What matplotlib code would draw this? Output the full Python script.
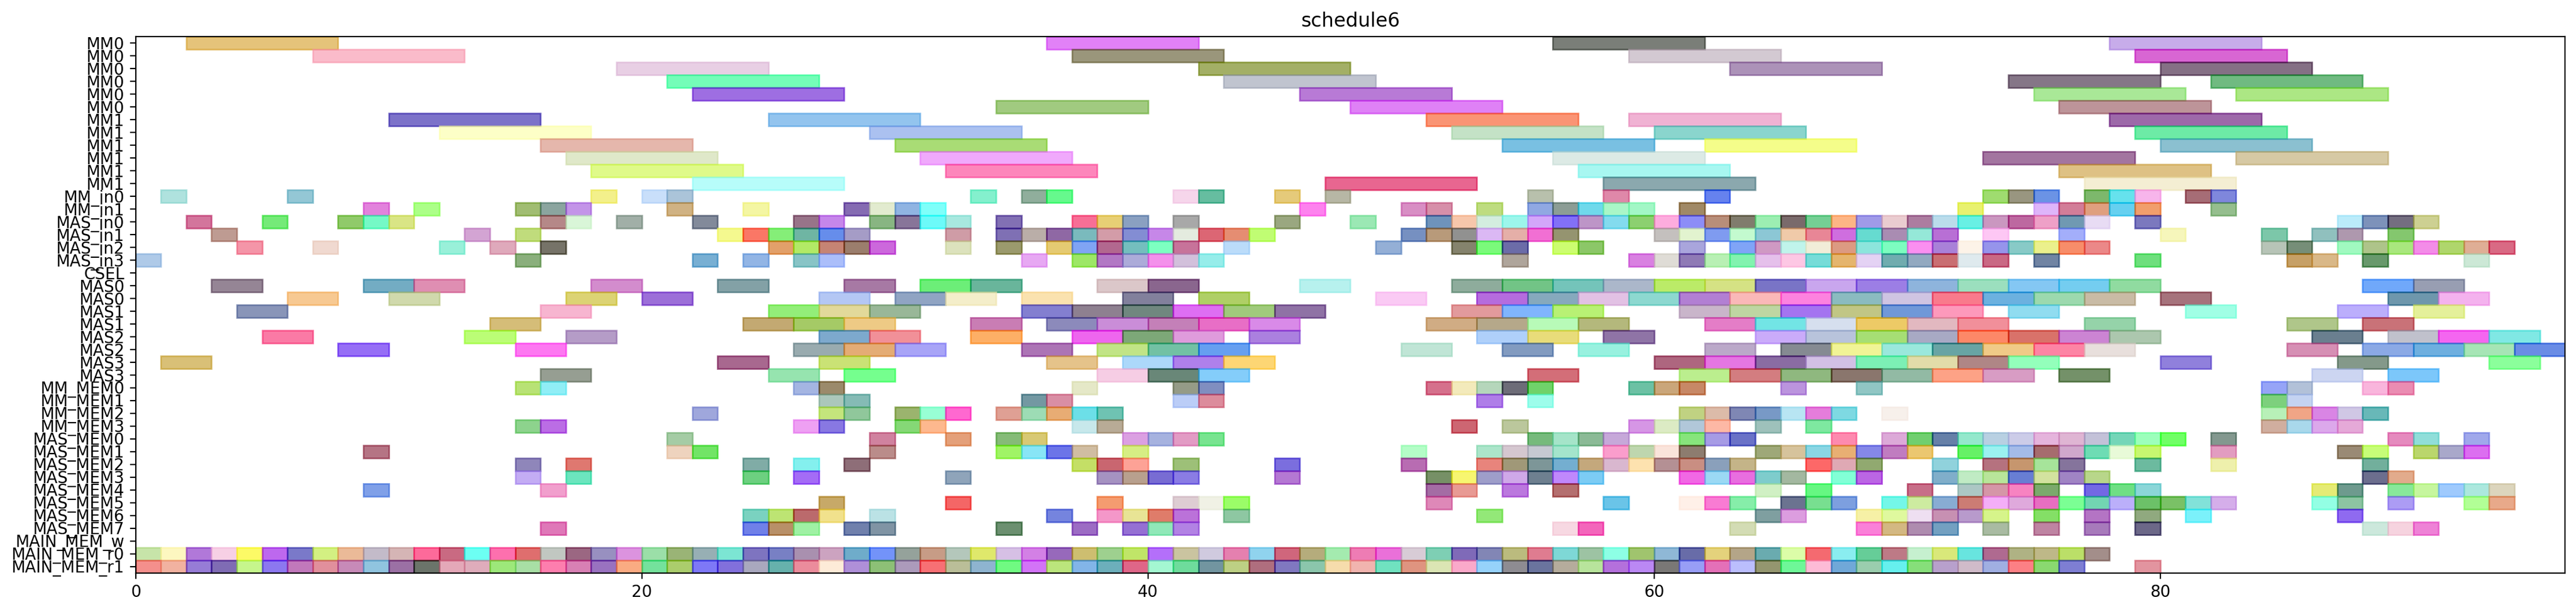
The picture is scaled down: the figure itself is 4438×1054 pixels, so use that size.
import matplotlib
matplotlib.use("Agg")
import matplotlib.pyplot as plt
from matplotlib.colors import to_rgb
import numpy as np

labels = ["MM0"] * 6 + ["MM1"] * 6 + ["MM_in0", "MM_in1", "MAS_in0", "MAS_in1", "MAS_in2", "MAS_in3", "CSEL",
          "MAS0", "MAS0", "MAS1", "MAS1", "MAS2", "MAS2", "MAS3", "MAS3",
          "MM_MEM0", "MM_MEM1", "MM_MEM2", "MM_MEM3",
          "MAS_MEM0", "MAS_MEM1", "MAS_MEM2", "MAS_MEM3", "MAS_MEM4", "MAS_MEM5", "MAS_MEM6", "MAS_MEM7",
          "MAIN_MEM_w", "MAIN_MEM_r0", "MAIN_MEM_r1"]

# how long a task stays on each resource
durations = [6] * 12 + [1] * 7 + [2] * 8 + [1] * 15

# start times, one list per row
s00 = [2, 36, 56, 78]
s01 = [7, 37, 59, 79]
s02 = [19, 42, 63, 80]
s03 = [21, 43, 74, 82]
s04 = [22, 46, 75, 83]
s05 = [34, 48, 76]
s06 = [10, 25, 51, 59, 78]
s07 = [12, 29, 52, 60, 79]
s08 = [16, 30, 54, 62, 80]
s09 = [17, 31, 56, 73, 83]
s10 = [18, 32, 57, 76]
s11 = [22, 47, 58, 77]
s12 = [1, 6, 18, 20, 21, 33, 35, 36, 41, 42, 45, 47, 55, 58, 62, 73, 74, 75, 77, 78, 79, 81, 82]
s13 = [9, 11, 15, 16, 17, 21, 24, 28, 29, 30, 31, 46, 50, 51, 53, 55, 56, 57, 58, 59, 61, 72, 75, 76, 77, 78, 79, 82]
s14 = [2, 5, 8, 9, 10, 16, 17, 19, 22, 26, 27, 29, 30, 31, 32, 34, 37, 38, 39, 41, 45, 48, 51, 52, 53, 54, 55, 56,
       57, 58, 59, 60, 61, 62, 63, 64, 65, 66, 67, 68, 69, 70, 71, 72, 73, 74, 75, 76, 77, 79, 87, 88, 89, 90]
s15 = [3, 13, 15, 23, 24, 25, 26, 27, 28, 32, 34, 35, 36, 37, 38, 39, 40, 41, 42, 43, 44, 50, 51, 52, 53, 54, 55, 56,
       60, 61, 62, 63, 64, 65, 66, 67, 68, 69, 70, 71, 73, 76, 80, 84, 86, 87, 89]
s16 = [4, 7, 12, 14, 16, 25, 26, 27, 28, 29, 32, 34, 36, 37, 38, 39, 40, 41, 43, 49, 52, 53, 54, 56, 57, 61, 63, 64,
       65, 66, 67, 68, 69, 70, 71, 72, 73, 74, 75, 76, 77, 84, 85, 87, 88, 89, 90, 91, 92, 93]
s17 = [0, 15, 22, 24, 26, 27, 35, 37, 38, 39, 40, 41, 42, 54, 59, 60, 61, 62, 63, 64, 65, 66, 67, 68, 69, 70,
       71, 72, 73, 75, 79, 85, 86, 88, 92]
s18 = []
s19 = [3, 9, 11, 18, 23, 28, 31, 33, 38, 40, 46, 52, 54, 56, 58, 60, 62, 64, 66, 68, 70, 72, 74, 76, 78, 88, 90]
s20 = [6, 10, 17, 20, 27, 30, 32, 35, 39, 42, 49, 53, 55, 57, 59, 61, 63, 65, 67, 69, 71, 73, 75, 77, 80, 89, 91]
s21 = [4, 16, 25, 27, 29, 35, 37, 39, 41, 43, 45, 52, 54, 56, 61, 63, 65, 67, 69, 71, 74, 81, 87, 90]
s22 = [14, 24, 26, 28, 33, 36, 38, 40, 42, 44, 51, 53, 55, 57, 62, 64, 66, 68, 70, 72, 77, 85, 88]
s23 = [5, 13, 17, 27, 29, 33, 37, 39, 41, 44, 53, 55, 58, 64, 66, 68, 70, 72, 74, 76, 78, 86, 89, 91, 93]
s24 = [8, 15, 26, 28, 30, 35, 38, 40, 42, 50, 54, 57, 62, 65, 67, 69, 71, 73, 75, 77, 85, 88, 90, 92, 94]
s25 = [1, 23, 27, 36, 39, 41, 43, 60, 62, 64, 66, 68, 70, 72, 74, 80, 87, 93]
s26 = [16, 25, 28, 38, 40, 42, 55, 61, 63, 65, 67, 69, 71, 73, 76, 86, 89]
s27 = [15, 16, 26, 27, 37, 41, 42, 51, 52, 53, 54, 55, 59, 60, 61, 65, 68, 84, 85, 88, 89]
s28 = [27, 28, 35, 36, 41, 42, 53, 55, 84, 85]
s29 = [22, 27, 28, 30, 31, 32, 34, 35, 36, 37, 38, 61, 62, 63, 64, 65, 66, 67, 69, 84, 85, 86, 87, 88]
s30 = [15, 16, 26, 27, 30, 31, 37, 38, 52, 54, 59, 60, 61, 62, 64, 66, 84, 85, 86, 87]
s31 = [21, 29, 32, 34, 35, 39, 40, 41, 42, 55, 56, 57, 58, 61, 62, 63, 67, 69, 70, 71, 72, 73, 74, 75, 76, 77, 78,
       79, 80, 82, 89, 90, 92]
s32 = [9, 21, 22, 29, 34, 35, 36, 37, 39, 50, 53, 54, 55, 56, 58, 59, 60, 61, 64, 65, 66, 67, 68, 69, 70, 72, 73,
       74, 75, 76, 77, 78, 79, 82, 87, 88, 90, 91, 92]
s33 = [15, 17, 24, 26, 28, 37, 38, 39, 41, 45, 50, 53, 54, 55, 56, 57, 58, 59, 60, 61, 62, 63, 66, 67, 68, 71, 73,
       74, 75, 76, 79, 82, 88]
s34 = [15, 17, 24, 26, 32, 38, 39, 40, 41, 45, 51, 52, 53, 54, 55, 56, 57, 61, 62, 63, 64, 65, 67, 68, 71, 72, 73,
       74, 75, 76, 77, 88, 89]
s35 = [9, 16, 51, 52, 54, 56, 64, 66, 70, 72, 73, 74, 75, 77, 78, 79, 86, 87, 89, 90, 91, 92, 93]
s36 = [27, 32, 38, 41, 42, 43, 51, 58, 61, 62, 63, 65, 66, 67, 69, 70, 71, 72, 73, 74, 75, 76, 77, 78, 79, 80, 81,
       82, 86, 87, 89, 92, 93]
s37 = [24, 25, 26, 27, 29, 36, 38, 39, 40, 41, 43, 53, 64, 65, 68, 69, 70, 71, 72, 73, 75, 77, 79, 81, 87]
s38 = [16, 24, 25, 26, 28, 29, 34, 37, 39, 40, 41, 56, 57, 63, 68, 69, 70, 71, 73, 75, 77, 79, 88, 89, 90]
s39 = []
s40 = [0, 1, 2, 3, 4, 5, 6, 7, 8, 9, 10, 11, 12, 13, 14, 15, 16, 17, 18, 19, 20, 21, 22, 23, 24, 25, 26, 27, 28, 29,
       30, 31, 32, 33, 34, 35, 36, 37, 38, 39, 40, 41, 42, 43, 44, 45, 46, 47, 48, 49, 50, 51, 52, 53, 54, 55, 56,
       57, 58, 59, 60, 61, 62, 63, 64, 65, 66, 67, 68, 69, 70, 71, 72, 73, 74, 75, 76, 77]
s41 = [0, 1, 2, 3, 4, 5, 6, 7, 8, 9, 10, 11, 12, 13, 14, 15, 16, 17, 18, 19, 20, 21, 22, 23, 24, 25, 26, 27, 28, 29,
       30, 31, 32, 33, 34, 35, 36, 37, 38, 39, 40, 41, 42, 43, 44, 45, 46, 47, 48, 49, 50, 51, 52, 53, 54, 55, 56,
       57, 58, 59, 60, 61, 62, 63, 64, 65, 66, 67, 68, 69, 70, 71, 72, 73, 74, 75, 76, 79]

# colour of each task as it looks on the white background, same order as the starts
c00 = ["#e5c37a", "#e281f8", "#7a7e78", "#c8adea"]
c01 = ["#fbbccb", "#9a967b", "#d4c9d2", "#d864d4"]
c02 = ["#e8cfe4", "#a3b064", "#ac92b9", "#857085"]
c03 = ["#74fdb9", "#c0c4cf", "#857687", "#70ba81"]
c04 = ["#9e6ee3", "#b87ad6", "#aae997", "#ace784"]
c05 = ["#a1cb80", "#e081f6", "#bd9499"]
c06 = ["#7c72c9", "#93c5ee", "#fb9474", "#f0b3d3", "#9d69aa"]
c07 = ["#fdffc8", "#abc2f0", "#c4e3c6", "#8ad5ce", "#6deba6"]
c08 = ["#e6b7ad", "#aadd75", "#79c0e3", "#f5fe8a", "#8bc0d1"]
c09 = ["#e0e9c9", "#f0aafc", "#dceae6", "#a375a0", "#d6c9a4"]
c10 = ["#dffb8a", "#fd86bc", "#a8f7f2", "#dec184"]
c11 = ["#b7fdfa", "#e96690", "#8ba8ae", "#f4efd3"]
c12 = ["#b0e3de", "#94c8d5", "#f3f08b", "#c9dffa", "#abc5d9", "#84f0cd", "#90ae9c", "#60f98d", "#f6d6ec", "#66bda0",
       "#e6cb7a", "#b7b7a5", "#b9c0ad", "#e088aa", "#6682ef", "#9fdc6f", "#999680", "#6b93e6", "#7db86c", "#66e3ed",
       "#f8b5ec", "#a66d76", "#7f87dd"]
c13 = ["#e282dc", "#adff88", "#a1bd72", "#8ba59f", "#c394e8", "#d0b283", "#f5f6a3", "#856bb3", "#e3ebcf", "#90b4e3",
       "#7ffffb", "#fd82ee", "#d88ec4", "#d78faa", "#bedc80", "#90a8e2", "#8c9d95", "#6fd9ec", "#a9f6c8", "#a2f7c6",
       "#a08963", "#e8f170", "#deb5fa", "#d27d98", "#df9f7f", "#64d1f0", "#f19e6c", "#95be8e"]
c14 = ["#d4759c", "#75ea78", "#90ca6a", "#75f9c6", "#d9e685", "#b58888", "#daf6d8", "#a1b0a7", "#828a9a", "#987489",
       "#c686ea", "#88b682", "#887599", "#6cfbf9", "#a8e8df", "#8270b4", "#f86f96", "#e7cf75", "#8aa0c1", "#a8a8a8",
       "#9aa780", "#9be8b4", "#6e93bc", "#f8c8ab", "#d4ede0", "#9cf6ec", "#d3a6fb", "#8270f8", "#bd95c8", "#83dbef",
       "#8cd170", "#fdadde", "#8c8df8", "#b98e7a", "#807c6d", "#9ceeb2", "#7a6a6b", "#75cf94", "#fdb585", "#a09ae8",
       "#eaccd1", "#ac7da0", "#badcec", "#68f0e4", "#cb97c0", "#bd68a0", "#eea0c8", "#7099b3", "#e8dcf5", "#7b78be",
       "#bbebfb", "#7d92ba", "#746e80", "#ced092"]
c15 = ["#bf9b92", "#d3a4d4", "#c0dc7c", "#f5f98f", "#fb7764", "#85ee78", "#6fb6a3", "#668deb", "#a59cc6", "#cf9ca6",
       "#7f70b4", "#baaea8", "#8f68a4", "#7ababd", "#d49ca8", "#838dd4", "#c687e8", "#e4ebe0", "#dc6674", "#e68d72",
       "#c0fd73", "#7690c2", "#b99a7a", "#919190", "#dbb9f5", "#e5b0a8", "#f16fd4", "#959470", "#c4c0bf", "#e3f3cf",
       "#7f9bf0", "#c3fbcf", "#8cc8d5", "#f0cbaa", "#e88696", "#cf6ee0", "#5edbd0", "#aa8cb2", "#95e8d8", "#b86fd5",
       "#fdc8f5", "#a3aefb", "#f6f6bb", "#7cc7aa", "#90c0bf", "#ae98ae", "#84c86e"]
c16 = ["#f495a8", "#f0dad0", "#99f0da", "#dfa9bc", "#767368", "#e3a06a", "#b2ea66", "#c68474", "#9b7e6d", "#cc68dd",
       "#dde2bd", "#9b9a6d", "#e5cb72", "#80a4f5", "#b2688f", "#74bfbf", "#7dffc2", "#c8739a", "#bcdcfb", "#94afd6",
       "#85836d", "#7bfb7b", "#6c6ca8", "#ccfd70", "#8cc868", "#a9a5dc", "#80a4f8", "#cf99c3", "#c0f5ec", "#f2edd8",
       "#dd9a82", "#8ce5dc", "#7dfdc0", "#fb8ff0", "#a981d8", "#fdf3e8", "#9694ec", "#88cbc8", "#ebf08c", "#f78d6a",
       "#eb8888", "#b7c5b7", "#768e78", "#a0f9c0", "#aec48a", "#aae77e", "#f38ce8", "#b0d66c", "#e0ae95", "#da6a84"]
c17 = ["#b0cbe9", "#8ab07c", "#78afd3", "#92b6e6", "#88c4c6", "#abbefb", "#e7a8f3", "#9de75f", "#b278c4", "#acabd9",
       "#f590ec", "#d2c0db", "#96edea", "#b0a59b", "#d981e1", "#dfddd6", "#8f7ab6", "#b9f0b4", "#82f3b0", "#e5c0ec",
       "#fdc8e4", "#76dcd8", "#e5b56e", "#e4d2f5", "#70acb0", "#92a9c0", "#c96e72", "#dfeaee", "#c96884", "#7084a3",
       "#6ee07d", "#c6a065", "#dab888", "#68996c", "#cce8d6"]
c18 = []
c19 = ["#958595", "#73acc3", "#df8eb2", "#d38ccd", "#83a1a6", "#a779a4", "#6cee78", "#69b59b", "#dbc7c9", "#8a648e",
       "#b7f2ee", "#8eac9c", "#72c586", "#74c5ba", "#abb7cb", "#bcec68", "#d5e284", "#7974c6", "#c9a6ee", "#9c7ee6",
       "#8eb4dc", "#9be0bf", "#84c7f3", "#74cef0", "#90dba0", "#70a8fb", "#989eb2"]
c20 = ["#f8c992", "#d0d9ac", "#dcd474", "#9c6fd8", "#b4c7f4", "#90a4c3", "#f5eecb", "#fbe3b0", "#82809c", "#b0cf66",
       "#fbcbf5", "#b66cde", "#86aabd", "#e3c2e4", "#8dd8d0", "#b27fd4", "#fab8b8", "#fd82e0", "#8bbcc0", "#cfc5e2",
       "#f97a8c", "#6cb1e0", "#9cd9ae", "#c9bca5", "#a6737c", "#6e97ac", "#f5b3ee"]
c21 = ["#8995b8", "#f8b5d0", "#93ee79", "#e3d99a", "#99b798", "#837fd0", "#8e8090", "#70877f", "#de6ef3", "#a0ca7c",
       "#8f72a5", "#e29a9c", "#80b5fd", "#b8f274", "#c9b5cb", "#bed7a2", "#a474f0", "#c2c685", "#7098d8", "#fd99bb",
       "#90dcf0", "#a0ffe6", "#bcaefc", "#e4f09a"]
c22 = ["#d5bd78", "#c3aa72", "#a5cb66", "#eecb85", "#c97db4", "#8c8abc", "#cb8dd8", "#c480b8", "#e86ec6", "#d98ae9",
       "#d1ad84", "#b6a88a", "#b8fbb8", "#b4b87c", "#e47dc8", "#72e5e5", "#d7e0ef", "#edcb63", "#e3b9c0", "#f18f9a",
       "#95d3aa", "#afc68a", "#c97278"]
c23 = ["#fb7aa5", "#bbfd76", "#b69cc8", "#7daace", "#f29098", "#fdb065", "#ef66ee", "#7da878", "#e09bdd", "#ab80e0",
       "#b0d0fa", "#e9dd7a", "#8f74a6", "#cbabfb", "#b9c3db", "#a6de74", "#a8aac5", "#fd8868", "#d9726a", "#cc84d3",
       "#adc8ae", "#6a7f8f", "#c0c2cc", "#f466f0", "#80e9e4"]
c24 = ["#966ef6", "#fd78f2", "#99abaf", "#e4ad75", "#a8a4f8", "#ad74b5", "#c2e486", "#72c2a4", "#669ff0", "#c0e6d6",
       "#829bc0", "#98f2e0", "#bcaac9", "#858a92", "#f2f596", "#9ae9dc", "#68a4a4", "#f0ca87", "#fd84a4", "#e8e0dc",
       "#d68fb4", "#8ba9e6", "#6eb0e0", "#a6e5b6", "#6a8ce6"]
c25 = ["#d9c077", "#a8688f", "#cbe375", "#e5c38a", "#add8fa", "#b080ec", "#fed774", "#ae667f", "#e676e2", "#8a6ca3",
       "#d2c0e6", "#7cf0b6", "#e3dcaa", "#b08686", "#93ffbc", "#9080dc", "#84998a", "#8bff9b"]
c26 = ["#969e92", "#96e4b0", "#75ff8e", "#f6cde4", "#698778", "#84cdfa", "#d36e78", "#bbee8e", "#d47d80", "#8fb97f",
       "#8a766d", "#92baa4", "#fda286", "#d89cc4", "#749169", "#ccd5f2", "#7cc8fb"]
c27 = ["#b9e275", "#90eff6", "#a4b5e2", "#9b8a6b", "#e5e8c8", "#959b87", "#808ec0", "#d5708c", "#f3eabb", "#b6d6bb",
       "#6d6c78", "#70d26a", "#6cc2a4", "#cba67a", "#c88864", "#bb94de", "#90c6c4", "#96a4f8", "#b3c1d8", "#f9b5dc",
       "#ea8cb2"]
c28 = ["#abc7bb", "#85bbb6", "#7398a2", "#da8ea4", "#bccef8", "#dd8c9c", "#b07de9", "#9dfdec", "#7dd07d", "#c5d3f2"]
c29 = ["#9fa7dc", "#c4e67c", "#90c89b", "#9bb46e", "#98ffd5", "#ff68d0", "#e0a094", "#9ddcb5", "#e8ac74", "#6ce0e8",
       "#6fc3b2", "#c0d282", "#dcbbaa", "#7f87b4", "#7899c6", "#b8e6f3", "#e57ddb", "#7ed9e2", "#f8f0ec", "#b8f0b8",
       "#f0a586", "#da85e4", "#d1c8e5", "#68b8b8"]
c30 = ["#8dd48d", "#bc6de6", "#eea0f3", "#8878e2", "#85d876", "#fdb88e", "#c8e8ec", "#b9ab96", "#cd6472", "#bbc79c",
       "#d796e6", "#dcebc5", "#b1c7da", "#fdb9a5", "#9ec2bb", "#7ee8a0", "#d0ae9f", "#a9d8ec", "#dca8ec", "#e6a9d8"]
c31 = ["#a5cca5", "#d0829f", "#e4a07a", "#86bc78", "#d8c974", "#dba0e3", "#a6b2e0", "#e29bc4", "#78e490", "#76ba7c",
       "#a5e4c9", "#8bba96", "#c6a8da", "#87e67c", "#a69be5", "#6a72c8", "#fd8ab0", "#ddaad8", "#70cf6f", "#6680a8",
       "#94e8cc", "#b8d0e2", "#cccce9", "#e6b4dc", "#e0b6d4", "#c3c1d8", "#74d6b8", "#9cffbc", "#70ff66", "#83988f",
       "#e68abe", "#90deda", "#a0a8ec"]
c32 = ["#b67484", "#efd3be", "#72e463", "#ba8c8a", "#a0f465", "#88e6f6", "#6c74e8", "#d1bda2", "#d6ef84", "#b4fdc8",
       "#ade5ca", "#d5c8d0", "#c6c9d2", "#a4e5cc", "#fb9dcc", "#bed6ae", "#fae4db", "#8d7c6f", "#9ea878", "#d6c39c",
       "#8ad7e4", "#e8b073", "#8588e8", "#c07cc0", "#ecc870", "#66f266", "#9bf2f0", "#a4bce8", "#a66c6e", "#d0a8cc",
       "#6edcb4", "#e8fbd8", "#c8f870", "#e39cc0", "#9a8a75", "#c8fd78", "#bad66c", "#aaa8cb", "#dd6ef0"]
c33 = ["#8f86ba", "#e07870", "#80aca6", "#84f0ee", "#8e6e78", "#c5e066", "#c96670", "#fda296", "#9dc078", "#7b6ede",
       "#b96cb3", "#e8847c", "#a09878", "#7d9698", "#74aed0", "#c4a87c", "#d9b7cf", "#fde3b0", "#b49094", "#c98e82",
       "#8aa0bc", "#c4b488", "#fd6868", "#e0a9b4", "#91a970", "#90d2dc", "#b6727f", "#c6966e", "#a6e49a", "#85749c",
       "#6cba9f", "#eff0ac", "#72b09c"]
c34 = ["#c3acf4", "#6ce5bf", "#6dd080", "#a46cf6", "#8fa4ba", "#a592c2", "#b8a08e", "#786cd4", "#8a7ce4", "#b478d4",
       "#769063", "#f7f670", "#9e9ecb", "#cfa8e8", "#6e8090", "#c088fc", "#7cccf4", "#f268e4", "#9bd9f5", "#e86ee0",
       "#7ecccc", "#a3b8a0", "#82ffd6", "#bb60e4", "#80aeca", "#c0ecc4", "#b8e69a", "#687ed4", "#d3e29f", "#a084c4",
       "#b9d68a", "#6c6e8e", "#e2ab8c"]
c35 = ["#80a0e8", "#f19fce", "#a46ca4", "#e89a94", "#bc78de", "#b46f6f", "#d0f0c5", "#66f882", "#c86e88", "#adc8c5",
       "#d596a7", "#f783c1", "#7ba96c", "#7368e4", "#6fdf84", "#8bd6d8", "#e5eb75", "#6e9a8e", "#88e99a", "#c6f69e",
       "#9fcbfd", "#ade8de", "#dcd5bd"]
c36 = ["#c8a968", "#f56666", "#f59c70", "#decdd4", "#f0f2e6", "#9bfd68", "#de88b8", "#6ac4e8", "#fff0e8", "#f97bd4",
       "#86eeaa", "#6b7390", "#78e090", "#7d9fe0", "#74f8e8", "#cdeba0", "#88acd4", "#cc7c74", "#f5aef8", "#dfa9dc",
       "#e76ec2", "#7bff94", "#72d5b2", "#bbb0fa", "#6cc268", "#7ac166", "#82e2da", "#d5aeea", "#93ffe4", "#8dc5a2",
       "#ad9cf4", "#b2ff96", "#e8a98a"]
c37 = ["#7ad2c0", "#bde473", "#bb6a6c", "#f2e18c", "#bbe2e5", "#7584de", "#f497c9", "#e8e495", "#df7c6a", "#bb72da",
       "#8ec8a2", "#93e878", "#7f9fa0", "#dd9de0", "#f6f0a6", "#dff99e", "#eee0f2", "#c890b2", "#b99acc", "#d6f58a",
       "#84df66", "#b474c4", "#90a97f", "#7bf2fb", "#8f6af0"]
c38 = ["#e078b8", "#7080e8", "#b99068", "#9ff2a4", "#7080ac", "#8094a4", "#6c9070", "#9c6cc4", "#9570d3", "#90e8b9",
       "#b382e4", "#f8d8e2", "#f364bc", "#d3dcb4", "#fb80d8", "#d4b982", "#ae8cb0", "#73a0c2", "#aabca2", "#be84a2",
       "#a77abc", "#6c6888", "#cce9dc", "#f6d3e0", "#ee82d6"]
c39 = []
c40 = ["#c7e4a9", "#fdf7c0", "#b178d9", "#f8d0e6", "#fcfa66", "#bd68ee", "#7a79c9", "#d3f082", "#ecba98", "#c3bcc9",
       "#d5b6b6", "#fd6a9a", "#c96a82", "#6cfff3", "#fd70ae", "#e06e6e", "#c1c7c1", "#9b6782", "#9890c0", "#dc93e0",
       "#9be0a8", "#9ab476", "#97b0b4", "#7ce6d4", "#7e74c0", "#7880c4", "#aa90b0", "#cca3c0", "#6faccb", "#7393f9",
       "#95a29b", "#c79c86", "#b4c7bc", "#e0e86b", "#d6c0e5", "#d480e6", "#9769bb", "#cebe70", "#9ed08f", "#c0e668",
       "#b46ffb", "#cbc4a0", "#d0cbe0", "#e580b0", "#90d4ef", "#d0667c", "#b5ac7c", "#a4ecb0", "#ee7cb4", "#ea70da",
       "#d8ccd6", "#7ecfb4", "#7f6ab8", "#8286b6", "#bcbb7e", "#e07c90", "#7ed8d6", "#9dc3a3", "#8dffe6", "#a0c46e",
       "#8fb9d6", "#686ca8", "#e4d27c", "#b4a588", "#6aabb0", "#dcfda8", "#f46a70", "#8aedf0", "#64cd98", "#bd7a86",
       "#c6f0cf", "#dae87a", "#68e6e0", "#b06a90", "#b0b284", "#bfb888", "#bbe068", "#a38e8a"]
c41 = ["#f58f8c", "#f2b2a0", "#967cd6", "#7f6cb4", "#c6f68c", "#8c78f0", "#c278bc", "#e18f9c", "#c78ab8", "#90c4e0",
       "#9b70a4", "#6b746a", "#e4a8b8", "#e0acbc", "#9de87a", "#a8dfa5", "#fd7eae", "#d880b4", "#9972c0", "#fbab82",
       "#74e29c", "#abce6c", "#7e78f8", "#8270dc", "#aaa8be", "#64b1ac", "#ec8c9c", "#feecd8", "#b08fd8", "#8dc076",
       "#ac9abc", "#f87074", "#babf98", "#8eb4d0", "#70fb82", "#d473f8", "#bbe67c", "#82b5e8", "#6cb0bc", "#e06288",
       "#a4f7d2", "#6edd9c", "#7295a0", "#bdd084", "#af6e7e", "#8078c0", "#8bc6ac", "#f6dcac", "#f2b4b0", "#70e2c0",
       "#e09480", "#dbe6b4", "#fbaaca", "#96d2fa", "#8e8c92", "#6a749e", "#b5ad9c", "#b8e49c", "#b470dc", "#bc88f4",
       "#7a7876", "#989ef6", "#e470b8", "#bcbefd", "#94966f", "#6ef798", "#fdbcd6", "#70a8d8", "#9acdae", "#66f0ee",
       "#86e07a", "#b9a0cc", "#d0bcc9", "#a0b0e3", "#fc8085", "#8ada70", "#7e7ed4", "#e2949f"]

all_starts = [s00, s01, s02, s03, s04, s05, s06, s07, s08, s09, s10, s11, s12, s13, s14, s15, s16, s17, s18, s19, s20,
              s21, s22, s23, s24, s25, s26, s27, s28, s29, s30, s31, s32, s33, s34, s35, s36, s37, s38, s39, s40, s41]
all_colors = [c00, c01, c02, c03, c04, c05, c06, c07, c08, c09, c10, c11, c12, c13, c14, c15, c16, c17, c18, c19, c20,
              c21, c22, c23, c24, c25, c26, c27, c28, c29, c30, c31, c32, c33, c34, c35, c36, c37, c38, c39, c40, c41]

ALPHA = 0.6


def base_color(seen):
    # undo the alpha blend on white so the bar comes out looking like the listed colour
    rgb = (np.array(to_rgb(seen)) - (1 - ALPHA)) / ALPHA
    return tuple(np.clip(rgb, 0, 1))


W, H = 4438, 1054
fig = plt.figure(figsize=(W / 200, H / 200), dpi=200)
ax = fig.add_axes([233.6 / W, (H - 986.6) / H, 96 * 43.6 / W, (986.6 - 63) / H])

for row, (starts, colors) in enumerate(zip(all_starts, all_colors)):
    if len(starts) != len(colors):
        print("row", row, "has", len(starts), "starts and", len(colors), "colors")
    for start, seen in zip(starts, colors):
        c = base_color(seen)
        ax.barh(row, durations[row], left=start, height=1, color=c, edgecolor=c, alpha=ALPHA)

ax.set_yticks(range(len(labels)))
ax.set_yticklabels(labels)
ax.set_xlim(0, 96)
ax.set_ylim(41.5, -0.5)
ax.set_title("schedule6")

fig.savefig("out.png", dpi=200)
